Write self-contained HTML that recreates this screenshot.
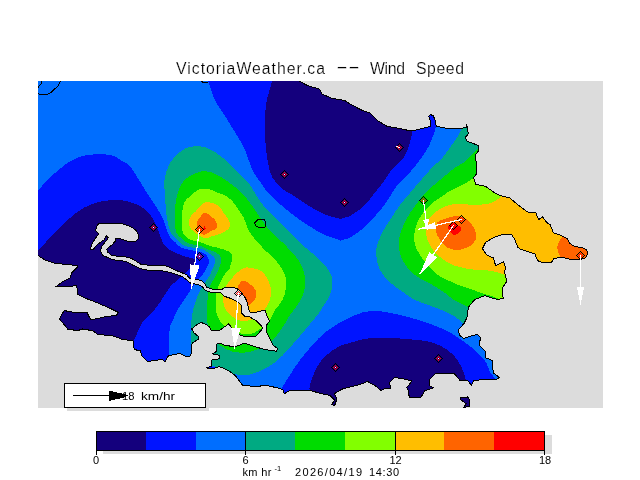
<!DOCTYPE html>
<html><head><meta charset="utf-8"><title>VictoriaWeather.ca -- Wind Speed</title>
<style>html,body{margin:0;padding:0;background:#fff}svg text{font-family:"Liberation Sans",sans-serif;fill:#000}svg text.t{stroke:#fff;stroke-width:0.2px}</style>
</head><body>
<svg width="640" height="480" viewBox="0 0 640 480" shape-rendering="crispEdges" style="display:block">
<rect width="640" height="480" fill="#fff"/>
<defs><clipPath id="mc"><rect x="38" y="81" width="565" height="327"/></clipPath></defs>
<g clip-path="url(#mc)">
<rect x="38" y="81" width="565" height="327" fill="#006eff"/>
<path d="M208.0,76.0 C208.0,76.7 206.8,76.0 208.0,80.0 C209.2,84.0 211.8,93.3 215.0,100.0 C218.2,106.7 222.7,112.1 227.5,120.0 C232.3,127.9 239.6,139.2 243.8,147.5 C247.9,155.8 249.4,163.8 252.5,170.0 C255.6,176.2 259.6,180.8 262.5,185.0 C265.4,189.2 265.4,190.4 270.0,195.0 C274.6,199.6 283.8,207.5 290.0,212.5 C296.2,217.5 301.7,221.2 307.5,225.0 C313.3,228.8 319.5,232.4 325.0,235.0 C330.5,237.6 337.9,239.4 340.5,240.3 C343.1,241.2 338.9,240.8 340.5,240.3 C342.1,239.8 346.3,239.4 350.0,237.5 C353.7,235.6 358.8,231.9 362.5,228.8 C366.2,225.6 369.2,222.3 372.5,218.8 C375.8,215.2 379.3,211.6 382.5,207.5 C385.7,203.4 389.0,197.8 391.5,194.0 C394.0,190.2 395.0,188.0 397.5,185.0 C400.0,182.0 403.3,179.4 406.2,176.2 C409.2,173.1 412.3,169.6 415.0,166.2 C417.7,162.9 420.2,159.6 422.5,156.2 C424.8,152.9 427.1,149.4 428.8,146.2 C430.4,143.1 431.5,140.2 432.5,137.5 C433.5,134.8 434.3,132.6 435.0,130.0 C435.7,127.4 436.2,125.3 436.5,122.0 C436.8,118.7 436.9,112.0 437.0,110.0 L437.0,70.0 L208.0,70.0Z" fill="#0014ff"/>
<path d="M273.0,76.0 C272.9,76.7 273.7,75.2 272.5,80.0 C271.3,84.8 267.2,96.2 266.0,105.0 C264.8,113.8 264.8,123.3 265.0,132.5 C265.2,141.7 266.2,152.5 267.5,160.0 C268.8,167.5 270.0,172.7 272.5,177.5 C275.0,182.3 279.2,185.8 282.5,188.8 C285.8,191.7 288.3,192.3 292.5,195.0 C296.7,197.7 302.1,201.8 307.5,205.0 C312.9,208.2 319.5,212.2 325.0,214.5 C330.5,216.8 337.9,218.1 340.5,218.8 C343.1,219.5 338.9,219.3 340.5,218.8 C342.1,218.3 347.2,217.3 350.0,216.0 C352.8,214.7 355.0,212.8 357.5,211.0 C360.0,209.2 362.4,207.7 365.0,205.0 C367.6,202.3 370.0,198.8 373.0,195.0 C376.0,191.2 380.2,186.3 383.0,182.5 C385.8,178.7 387.8,174.9 390.0,172.0 C392.2,169.1 394.0,167.4 396.2,165.0 C398.5,162.6 401.7,160.6 403.8,157.5 C405.8,154.4 407.5,149.6 408.8,146.2 C410.0,142.9 410.7,140.2 411.2,137.5 C411.8,134.8 411.9,134.6 412.0,130.0 C412.1,125.4 412.0,113.3 412.0,110.0 L412.0,70.0 L272.5,70.0Z" fill="#14007d"/>
<path d="M30.0,198.0 C31.3,196.8 35.1,193.5 38.0,190.5 C40.9,187.5 43.8,183.6 47.5,180.0 C51.2,176.4 55.8,172.1 60.0,168.8 C64.2,165.4 67.9,162.3 72.5,160.0 C77.1,157.7 81.2,155.8 87.5,155.0 C93.8,154.2 104.2,154.0 110.0,155.0 C115.8,156.0 119.2,159.4 122.5,161.2 C125.8,163.1 127.5,163.5 130.0,166.2 C132.5,169.0 134.6,172.9 137.5,177.5 C140.4,182.1 144.6,189.2 147.5,193.8 C150.4,198.3 152.5,201.0 155.0,205.0 C157.5,209.0 160.6,213.5 162.5,217.5 C164.4,221.5 165.2,225.7 166.5,229.0 C167.8,232.3 168.6,235.3 170.0,237.5 C171.4,239.7 173.3,240.3 175.0,241.9 C176.7,243.5 178.3,245.8 180.0,246.9 C181.7,248.0 183.2,248.2 185.0,248.8 C186.8,249.3 188.4,249.5 190.6,250.0 C192.8,250.5 196.0,251.1 198.0,251.5 C200.0,251.9 201.1,251.9 202.5,252.5 C203.9,253.1 205.3,254.0 206.2,255.0 C207.2,256.0 207.9,257.6 208.4,258.8 C208.9,259.9 209.1,260.9 209.0,261.9 C208.9,262.9 208.5,263.9 208.0,265.0 C207.5,266.1 207.2,267.1 206.2,268.8 C205.3,270.4 204.0,273.1 202.5,275.0 C201.0,276.9 199.2,277.9 197.5,280.0 C195.8,282.1 194.2,285.0 192.5,287.5 C190.8,290.0 189.2,292.5 187.5,295.0 C185.8,297.5 184.2,300.0 182.5,302.5 C180.8,305.0 179.1,307.1 177.5,310.0 C175.9,312.9 174.2,317.1 173.0,320.0 C171.8,322.9 170.7,323.8 170.0,327.5 C169.3,331.2 168.8,337.8 168.8,342.5 C168.7,347.2 168.5,352.4 169.5,356.0 C170.5,359.6 171.6,362.2 175.0,364.0 C178.4,365.8 185.0,366.6 190.0,367.0 C195.0,367.4 201.0,366.5 205.0,366.5 C209.0,366.5 212.0,366.1 214.0,367.0 C216.0,367.9 216.5,369.8 217.0,372.0 C217.5,374.2 217.0,378.7 217.0,380.0 L217.0,420.0 L30.0,420.0Z" fill="#0014ff"/>
<path d="M30.0,260.0 C31.3,258.5 33.8,255.6 38.0,251.0 C42.2,246.4 48.8,238.7 55.0,232.5 C61.2,226.3 68.8,218.5 75.0,213.8 C81.2,209.0 86.2,206.0 92.5,203.8 C98.8,201.5 106.2,200.3 112.5,200.0 C118.8,199.7 124.4,200.3 130.0,202.0 C135.6,203.7 141.8,206.5 146.0,210.0 C150.2,213.5 152.6,218.6 155.0,223.0 C157.4,227.4 159.0,232.8 160.5,236.5 C162.0,240.2 162.4,242.8 164.0,245.0 C165.6,247.2 168.0,248.7 170.0,250.0 C172.0,251.3 174.2,252.1 176.2,253.0 C178.3,253.9 180.4,254.8 182.5,255.6 C184.6,256.4 186.7,256.9 188.8,257.5 C190.8,258.1 194.0,258.2 195.0,259.0 C196.0,259.8 195.8,260.9 195.0,262.5 C194.2,264.1 192.1,266.6 190.0,268.8 C187.9,270.9 185.8,272.6 182.5,275.6 C179.2,278.6 173.8,282.4 170.0,286.9 C166.2,291.4 163.3,297.8 160.0,302.5 C156.7,307.2 152.9,311.7 150.0,315.0 C147.1,318.3 144.6,319.6 142.5,322.5 C140.4,325.4 139.0,329.2 137.5,332.5 C136.0,335.8 134.5,337.9 133.8,342.5 C133.0,347.1 133.1,357.1 133.0,360.0 L133.0,420.0 L30.0,420.0Z" fill="#14007d"/>
<path d="M282.5,395.0 C282.5,393.8 281.2,390.8 282.5,387.5 C283.8,384.2 287.1,379.6 290.0,375.0 C292.9,370.4 296.2,365.0 300.0,360.0 C303.8,355.0 308.3,349.6 312.5,345.0 C316.7,340.4 320.4,336.2 325.0,332.5 C329.6,328.8 335.8,325.0 340.0,322.5 C344.2,320.0 346.2,319.2 350.0,317.5 C353.8,315.8 357.5,313.5 362.5,312.5 C367.5,311.5 372.9,310.6 380.0,311.2 C387.1,311.9 396.7,314.2 405.0,316.2 C413.3,318.3 422.5,321.0 430.0,323.8 C437.5,326.5 444.2,329.4 450.0,332.5 C455.8,335.6 460.4,339.2 465.0,342.5 C469.6,345.8 474.0,349.2 477.5,352.5 C481.0,355.8 484.2,359.2 486.2,362.5 C488.3,365.8 488.3,369.6 490.0,372.5 C491.7,375.4 494.6,377.1 496.2,380.0 C497.9,382.9 499.4,388.3 500.0,390.0 L500.0,420.0 L282.0,420.0Z" fill="#0014ff"/>
<path d="M309.5,400.0 C309.5,398.5 309.4,393.5 309.5,391.0 C309.6,388.5 309.2,388.1 310.0,385.0 C310.8,381.9 312.6,376.7 314.5,372.5 C316.4,368.3 318.5,363.7 321.5,360.0 C324.5,356.3 329.2,352.9 332.5,350.5 C335.8,348.1 338.1,346.8 341.0,345.5 C343.9,344.2 346.0,344.1 350.0,343.0 C354.0,341.9 358.8,339.6 365.0,338.8 C371.2,337.9 379.6,337.9 387.5,338.0 C395.4,338.1 405.0,338.8 412.5,339.5 C420.0,340.2 426.7,340.8 432.5,342.5 C438.3,344.2 443.3,347.1 447.5,350.0 C451.7,352.9 454.8,356.2 457.5,360.0 C460.2,363.8 462.3,368.8 463.8,372.5 C465.2,376.2 465.7,378.8 466.2,382.5 C466.8,386.2 466.9,392.9 467.0,395.0 L467.0,420.0 L309.0,420.0Z" fill="#14007d"/>
<path d="M164.5,180.0 C165.3,174.7 167.4,167.7 170.0,163.0 C172.6,158.3 176.7,154.7 180.0,152.0 C183.3,149.3 185.7,147.8 190.0,147.0 C194.3,146.2 200.6,145.8 206.0,147.5 C211.4,149.2 216.8,152.9 222.5,157.5 C228.2,162.1 235.4,170.4 240.0,175.0 C244.6,179.6 247.3,181.7 250.0,185.0 C252.7,188.3 253.5,191.2 256.0,195.0 C258.5,198.8 260.6,202.5 265.0,207.5 C269.4,212.5 276.2,218.8 282.5,225.0 C288.8,231.2 296.2,239.2 302.5,245.0 C308.8,250.8 315.4,255.4 320.0,260.0 C324.6,264.6 327.9,268.8 330.0,272.5 C332.1,276.2 332.5,278.8 332.5,282.5 C332.5,286.2 331.7,290.8 330.0,295.0 C328.3,299.2 324.6,304.2 322.5,307.5 C320.4,310.8 320.4,311.2 317.5,315.0 C314.6,318.8 309.6,324.6 305.0,330.0 C300.4,335.4 295.0,342.1 290.0,347.5 C285.0,352.9 280.0,358.6 275.0,362.5 C270.0,366.4 264.6,368.9 260.0,371.0 C255.4,373.1 251.0,374.3 247.5,375.0 C244.0,375.7 242.3,375.7 238.8,375.0 C235.2,374.3 229.3,372.1 226.0,371.0 C222.7,369.9 221.0,369.1 219.0,368.3 C217.0,367.5 215.8,366.8 214.0,366.3 C212.2,365.8 209.7,366.6 208.0,365.5 C206.3,364.4 205.3,362.2 204.0,360.0 C202.7,357.8 202.0,354.2 200.0,352.0 C198.0,349.8 193.4,350.7 192.0,347.0 C190.6,343.3 191.6,334.5 191.5,330.0 C191.4,325.5 191.2,323.3 191.5,320.0 C191.8,316.7 192.4,312.7 193.0,310.0 C193.6,307.3 194.2,306.0 195.0,303.8 C195.8,301.5 196.5,298.8 197.5,296.2 C198.5,293.8 200.0,291.0 201.2,288.8 C202.5,286.5 203.5,284.8 205.0,282.5 C206.5,280.2 208.8,277.2 210.0,275.0 C211.2,272.8 211.5,271.0 212.2,269.4 C212.9,267.8 213.5,266.9 214.0,265.6 C214.5,264.4 214.9,263.1 215.0,261.9 C215.1,260.7 215.1,259.4 214.7,258.3 C214.3,257.2 213.3,256.2 212.5,255.5 C211.7,254.8 210.9,254.6 210.0,254.0 C209.1,253.4 208.2,252.8 207.0,252.0 C205.8,251.2 204.0,250.1 202.5,249.4 C201.0,248.7 199.7,248.3 198.0,248.0 C196.3,247.7 194.3,247.8 192.5,247.5 C190.7,247.2 188.7,246.9 187.0,246.5 C185.3,246.1 184.0,246.0 182.5,245.0 C181.0,244.0 179.5,242.1 178.0,240.6 C176.5,239.1 175.1,237.8 173.8,236.2 C172.4,234.7 171.0,233.5 170.0,231.0 C169.0,228.5 168.2,224.5 167.5,221.0 C166.8,217.5 166.4,214.3 166.0,210.0 C165.6,205.7 165.2,200.0 165.0,195.0 C164.8,190.0 163.7,185.3 164.5,180.0Z" fill="#00aa82"/>
<path d="M176.0,200.0 C176.6,196.7 177.6,193.0 178.8,190.0 C179.9,187.0 181.1,184.3 183.0,182.0 C184.9,179.7 186.5,177.8 190.0,176.0 C193.5,174.2 199.4,171.2 204.0,171.0 C208.6,170.8 212.8,172.7 217.5,175.0 C222.2,177.3 228.1,181.7 232.5,185.0 C236.9,188.3 240.2,190.8 244.0,195.0 C247.8,199.2 251.1,204.6 255.0,210.0 C258.9,215.4 262.1,221.2 267.5,227.5 C272.9,233.8 282.1,241.7 287.5,247.5 C292.9,253.3 297.1,257.5 300.0,262.5 C302.9,267.5 304.4,272.5 305.0,277.5 C305.6,282.5 305.0,287.9 303.8,292.5 C302.5,297.1 299.8,301.2 297.5,305.0 C295.2,308.8 292.5,311.2 290.0,315.0 C287.5,318.8 285.0,323.8 282.5,327.5 C280.0,331.2 277.4,334.9 275.0,337.5 C272.6,340.1 270.7,341.1 268.0,343.0 C265.3,344.9 262.6,347.4 258.8,349.0 C254.9,350.6 249.5,352.1 245.0,352.5 C240.5,352.9 236.0,352.6 232.0,351.5 C228.0,350.4 224.2,347.9 221.2,346.0 C218.2,344.1 215.9,342.2 214.0,340.0 C212.1,337.8 211.2,336.3 210.0,333.0 C208.8,329.7 207.5,323.8 207.0,320.0 C206.5,316.2 206.8,313.3 206.9,310.0 C207.0,306.7 207.3,302.9 207.5,300.0 C207.7,297.1 207.4,295.2 208.0,292.5 C208.6,289.8 209.9,286.7 211.2,283.8 C212.6,280.8 215.0,277.5 216.2,275.0 C217.5,272.5 218.1,270.4 218.8,268.8 C219.4,267.1 219.9,266.2 220.3,265.0 C220.7,263.8 220.9,262.6 221.0,261.2 C221.1,259.9 221.0,258.3 220.6,257.2 C220.2,256.1 219.7,255.4 218.8,254.5 C217.8,253.6 216.5,252.8 215.0,252.0 C213.5,251.2 211.2,250.4 210.0,250.0 C208.8,249.6 208.5,249.9 207.5,249.4 C206.5,248.9 205.2,247.8 203.8,247.2 C202.3,246.6 200.0,246.0 198.8,245.6 C197.5,245.2 197.6,245.3 196.2,245.0 C194.9,244.7 192.4,244.5 190.6,244.0 C188.8,243.5 187.2,242.9 185.6,241.9 C184.0,240.9 182.7,239.4 181.2,238.0 C179.8,236.6 178.0,235.6 177.0,233.8 C176.0,231.9 175.4,229.6 175.0,227.0 C174.6,224.4 174.5,220.8 174.5,218.0 C174.5,215.2 174.8,213.0 175.0,210.0 C175.2,207.0 175.4,203.3 176.0,200.0Z" fill="#00dc00"/>
<path d="M183.5,205.0 C183.9,203.4 184.2,202.4 185.0,201.2 C185.8,200.1 187.0,199.0 188.0,198.0 C189.0,197.0 189.9,196.1 191.2,195.0 C192.6,193.9 194.3,192.3 196.0,191.3 C197.7,190.3 198.9,189.1 201.2,188.8 C203.6,188.4 207.3,188.8 210.0,189.4 C212.7,190.0 215.0,191.5 217.5,192.5 C220.0,193.5 222.7,194.3 225.0,195.6 C227.3,196.8 229.4,198.2 231.2,200.0 C233.1,201.8 234.8,204.2 236.2,206.2 C237.7,208.2 238.8,210.0 240.0,212.0 C241.2,214.0 242.1,214.6 243.8,218.0 C245.4,221.4 246.9,227.6 250.0,232.5 C253.1,237.4 257.9,242.5 262.5,247.5 C267.1,252.5 273.8,257.9 277.5,262.5 C281.2,267.1 283.6,270.8 285.0,275.0 C286.4,279.2 286.4,283.3 286.0,287.5 C285.6,291.7 284.3,296.2 282.5,300.0 C280.7,303.8 277.1,306.7 275.0,310.0 C272.9,313.3 271.8,317.2 270.0,320.0 C268.2,322.8 265.8,324.9 264.0,326.5 C262.2,328.1 260.7,328.4 259.0,329.5 C257.3,330.6 256.1,332.2 254.0,333.0 C251.9,333.8 248.8,334.5 246.2,334.5 C243.7,334.5 241.5,333.7 238.8,332.8 C236.0,331.8 232.5,330.1 230.0,329.0 C227.5,327.9 225.7,327.3 224.0,326.0 C222.3,324.7 221.2,322.8 220.0,321.0 C218.8,319.2 217.6,316.8 217.0,315.0 C216.4,313.2 216.5,312.1 216.2,310.0 C216.0,307.9 215.6,305.2 215.6,302.5 C215.6,299.8 215.9,296.0 216.2,293.8 C216.6,291.5 216.9,290.6 217.5,288.8 C218.1,286.9 218.8,285.0 220.0,282.5 C221.2,280.0 223.4,276.0 225.0,273.8 C226.6,271.5 228.5,270.2 229.4,268.8 C230.3,267.3 230.2,266.4 230.6,265.0 C231.0,263.6 231.7,262.4 231.9,260.6 C232.1,258.9 232.2,255.9 231.9,254.5 C231.6,253.1 231.2,252.9 230.0,252.2 C228.8,251.4 226.9,250.7 225.0,250.0 C223.1,249.3 220.8,248.6 218.8,248.0 C216.7,247.4 214.4,247.0 212.5,246.5 C210.6,246.0 209.0,245.5 207.5,245.0 C206.0,244.5 205.1,243.9 203.8,243.4 C202.4,242.9 200.5,242.5 199.4,242.2 C198.3,241.9 198.2,241.8 196.9,241.5 C195.7,241.2 193.6,241.0 191.9,240.3 C190.2,239.6 188.3,238.6 186.9,237.5 C185.5,236.4 184.3,235.6 183.5,234.0 C182.7,232.4 182.3,230.3 182.0,228.0 C181.7,225.7 181.8,222.8 181.9,220.0 C182.0,217.2 182.0,213.5 182.3,211.0 C182.6,208.5 183.1,206.6 183.5,205.0Z" fill="#82ff00"/>
<path d="M195.6,211.5 C197.8,209.4 201.3,203.6 205.0,202.5 C208.7,201.4 214.4,203.2 217.5,205.0 C220.6,206.8 221.8,210.4 223.8,213.0 C225.7,215.6 228.0,218.1 229.0,220.4 C230.0,222.7 230.5,225.0 230.0,226.7 C229.5,228.4 227.5,229.6 225.8,230.8 C224.1,232.0 222.0,233.1 219.6,234.0 C217.2,234.9 213.7,235.8 211.2,236.5 C208.8,237.2 207.0,238.6 205.0,238.4 C203.0,238.2 201.1,236.5 199.4,235.5 C197.7,234.5 196.3,233.5 195.0,232.5 C193.7,231.5 192.4,230.6 191.5,229.5 C190.6,228.4 189.8,227.5 189.4,226.0 C189.0,224.5 188.6,222.2 188.9,220.4 C189.2,218.6 190.4,216.7 191.5,215.2 C192.6,213.7 193.3,213.6 195.6,211.5Z" fill="#ffbe00"/>
<path d="M204.0,213.0 C205.4,212.7 207.0,213.3 209.0,214.7 C211.0,216.1 214.8,219.2 216.0,221.5 C217.2,223.8 217.3,226.6 216.5,228.2 C215.7,229.8 213.2,229.8 211.2,230.8 C209.3,231.9 206.7,234.1 205.0,234.5 C203.3,234.9 202.1,234.4 200.8,233.4 C199.5,232.4 197.8,230.7 197.2,228.8 C196.6,226.8 196.6,223.6 197.2,221.5 C197.8,219.4 199.7,217.7 200.8,216.2 C201.9,214.8 202.6,213.3 204.0,213.0Z" fill="#ff6400"/>
<path d="M248.0,267.5 C251.0,268.0 257.8,268.8 261.2,271.2 C264.8,273.7 267.4,278.5 269.0,282.0 C270.6,285.5 270.9,288.8 271.0,292.0 C271.1,295.2 270.5,298.2 269.5,301.0 C268.5,303.8 266.2,307.0 265.0,309.0 C263.8,311.0 263.8,311.4 262.0,313.0 C260.2,314.6 256.7,317.2 254.0,318.5 C251.3,319.8 248.7,320.8 246.0,321.0 C243.3,321.2 240.2,320.7 238.0,320.0 C235.8,319.3 234.7,318.2 233.0,317.0 C231.3,315.8 229.5,314.8 228.0,313.0 C226.5,311.2 224.8,308.7 224.0,306.0 C223.2,303.3 223.0,299.7 223.0,297.0 C223.0,294.3 223.2,292.3 224.0,290.0 C224.8,287.7 226.5,285.2 228.0,283.0 C229.5,280.8 231.3,278.8 233.0,277.0 C234.7,275.2 236.3,273.4 238.0,272.0 C239.7,270.6 241.3,269.2 243.0,268.5 C244.7,267.8 245.0,267.0 248.0,267.5Z" fill="#ffbe00"/>
<path d="M238.0,286.0 C238.7,284.2 240.7,281.8 242.0,281.0 C243.3,280.2 244.5,280.8 246.0,281.5 C247.5,282.2 249.3,283.4 251.0,285.0 C252.7,286.6 255.2,288.8 256.0,291.0 C256.8,293.2 256.6,296.2 255.5,298.5 C254.4,300.8 251.2,303.8 249.5,304.5 C247.8,305.2 246.4,304.1 245.0,303.0 C243.6,301.9 242.2,299.8 241.0,298.0 C239.8,296.2 238.5,294.0 238.0,292.0 C237.5,290.0 237.3,287.8 238.0,286.0Z" fill="#ff6400"/>
<path d="M463.0,120.0 C462.7,121.7 462.4,126.9 461.2,130.0 C460.1,133.1 458.1,135.8 456.2,138.8 C454.4,141.7 452.1,144.6 450.0,147.5 C447.9,150.4 446.0,153.5 443.8,156.2 C441.5,159.0 438.8,161.2 436.2,163.8 C433.8,166.2 431.2,168.5 428.8,171.2 C426.2,174.0 424.0,176.9 421.2,180.0 C418.5,183.1 414.6,187.5 412.5,190.0 C410.4,192.5 410.6,192.5 408.5,195.0 C406.4,197.5 403.1,200.8 400.0,205.0 C396.9,209.2 393.2,215.0 390.0,220.0 C386.8,225.0 383.3,229.6 381.0,235.0 C378.7,240.4 376.2,246.7 376.0,252.5 C375.8,258.3 377.7,265.0 380.0,270.0 C382.3,275.0 386.2,278.8 390.0,282.5 C393.8,286.2 398.8,289.1 403.0,292.0 C407.2,294.9 409.7,297.4 415.0,300.0 C420.3,302.6 428.8,305.0 435.0,307.5 C441.2,310.0 447.7,312.3 452.5,315.0 C457.3,317.7 460.8,321.2 463.8,323.8 C466.7,326.2 469.0,329.0 470.0,330.0 L620.0,330.0 L620.0,70.0 L463.0,70.0Z" fill="#00aa82"/>
<path d="M483.0,138.0 C482.3,139.6 481.2,144.5 479.0,147.5 C476.8,150.5 472.5,153.8 470.0,156.2 C467.5,158.8 466.2,160.6 463.8,162.5 C461.2,164.4 457.7,165.6 455.0,167.5 C452.3,169.4 450.0,171.7 447.5,173.8 C445.0,175.8 442.5,177.9 440.0,180.0 C437.5,182.1 435.0,184.0 432.5,186.2 C430.0,188.5 427.8,190.5 425.0,193.5 C422.2,196.5 419.2,200.1 416.0,204.5 C412.8,208.9 408.7,214.9 406.0,220.0 C403.3,225.1 401.2,230.4 400.0,235.0 C398.8,239.6 398.1,242.9 398.8,247.5 C399.4,252.1 401.0,257.9 403.8,262.5 C406.5,267.1 410.2,271.2 415.0,275.0 C419.8,278.8 427.5,282.0 432.5,285.0 C437.5,288.0 441.5,290.5 445.0,293.0 C448.5,295.5 450.4,297.9 453.8,300.0 C457.1,302.1 462.0,304.0 465.0,305.5 C468.0,307.0 470.8,308.4 472.0,309.0 L620.0,309.0 L620.0,70.0 L483.0,70.0Z" fill="#00dc00"/>
<path d="M486.0,168.0 C484.0,169.6 477.9,174.7 474.0,177.5 C470.1,180.3 466.5,182.8 462.5,185.0 C458.5,187.2 453.1,189.3 450.0,191.0 C446.9,192.7 447.3,192.7 444.0,195.0 C440.7,197.3 434.0,201.2 430.0,205.0 C426.0,208.8 422.5,213.3 420.0,217.5 C417.5,221.7 415.8,225.4 415.0,230.0 C414.2,234.6 413.8,240.2 415.0,245.0 C416.2,249.8 419.8,254.6 422.5,258.5 C425.2,262.4 428.1,265.5 431.0,268.5 C433.9,271.5 436.8,274.4 440.0,276.5 C443.2,278.6 446.7,279.7 450.0,281.2 C453.3,282.8 456.7,284.4 460.0,285.6 C463.3,286.9 466.7,287.6 470.0,288.8 C473.3,289.9 476.7,291.4 480.0,292.5 C483.3,293.6 486.9,294.6 490.0,295.6 C493.1,296.6 496.1,297.9 498.8,298.8 C501.4,299.6 504.8,300.6 506.0,301.0 L620.0,302.0 L620.0,70.0 L486.0,70.0Z" fill="#82ff00"/>
<path d="M510.0,190.0 C508.8,190.8 505.4,192.9 502.5,195.0 C499.6,197.1 497.1,200.8 492.5,202.5 C487.9,204.2 481.2,204.8 475.0,205.0 C468.8,205.2 460.8,203.1 455.0,203.8 C449.2,204.4 444.2,206.5 440.0,208.8 C435.8,211.0 432.3,214.4 430.0,217.5 C427.7,220.6 426.4,223.8 426.0,227.5 C425.6,231.2 426.0,235.8 427.5,240.0 C429.0,244.2 431.2,248.5 435.0,252.5 C438.8,256.5 444.6,261.0 450.0,263.8 C455.4,266.5 462.5,267.7 467.5,268.8 C472.5,269.8 475.8,269.6 480.0,270.0 C484.2,270.4 488.3,270.2 492.5,271.0 C496.7,271.8 501.8,273.8 505.0,275.0 C508.2,276.2 510.8,277.5 512.0,278.0 L620.0,278.0 L620.0,185.0Z" fill="#ffbe00"/>
<path d="M437.5,222.5 C439.0,220.5 441.7,219.8 445.0,218.8 C448.3,217.7 453.8,215.8 457.5,216.0 C461.2,216.2 464.6,217.7 467.5,220.0 C470.4,222.3 473.6,226.9 475.0,230.0 C476.4,233.1 476.8,236.1 476.0,238.8 C475.2,241.4 473.1,244.1 470.0,246.0 C466.9,247.9 461.2,249.8 457.5,250.0 C453.8,250.2 450.4,249.2 447.5,247.5 C444.6,245.8 441.9,242.8 440.0,240.0 C438.1,237.2 436.4,233.9 436.0,231.0 C435.6,228.1 436.0,224.5 437.5,222.5Z" fill="#ff6400"/>
<path d="M448.5,226.5 C449.0,225.3 450.6,223.3 452.0,223.0 C453.4,222.7 455.4,223.6 457.0,224.5 C458.6,225.4 461.1,227.2 461.5,228.5 C461.9,229.8 460.6,230.9 459.5,232.0 C458.4,233.1 456.4,234.8 455.0,235.0 C453.6,235.2 452.0,233.8 451.0,233.0 C450.0,232.2 449.4,231.1 449.0,230.0 C448.6,228.9 448.0,227.7 448.5,226.5Z" fill="#ff0000"/>
<path d="M566.0,232.0 C565.2,233.0 562.6,236.0 561.2,238.0 C559.9,240.0 558.6,242.0 558.0,243.8 C557.4,245.5 557.4,247.1 557.5,248.8 C557.6,250.4 558.1,252.3 558.8,253.8 C559.4,255.2 560.2,256.0 561.2,257.5 C562.3,259.0 564.4,262.1 565.0,263.0 L595.0,263.0 L595.0,232.0Z" fill="#ff6400"/>
<polyline points="299.0,80.5 307.5,85.0 320.0,88.8 322.5,93.8 332.5,98.0 345.0,100.0 350.0,103.5 362.5,110.0 370.0,112.5 377.5,120.0 387.5,126.0 400.0,128.0 411.0,130.5 422.5,128.0 430.0,126.0 430.5,122.5 428.0,116.0 430.5,114.0 433.8,115.5 435.5,120.0 436.8,126.0 445.0,127.5 460.0,128.0 466.0,127.0 466.0,123.0 467.5,126.0 468.8,133.8 466.0,137.5 467.5,141.0 478.8,145.0 479.0,151.0 476.0,155.0 477.5,173.8 474.0,177.5 476.0,183.8 486.0,186.0 495.0,192.5 500.0,195.0 510.0,197.5 517.5,203.8 525.6,210.0 528.8,212.0 536.2,212.5 538.8,218.8 542.5,216.2 547.0,222.0 550.6,224.4 553.8,232.5 561.2,235.0 567.5,238.0 570.0,243.0 575.0,246.2 582.5,247.0 587.0,249.4 588.0,252.5 587.0,257.0 583.8,259.4 575.0,260.0 567.5,259.4 561.2,257.5 553.8,259.4 552.0,262.5 542.5,263.0 537.5,261.2 535.6,257.0 535.0,254.4 527.5,252.0 520.0,249.4 517.5,247.5 513.8,238.8 511.0,234.5 502.5,235.0 495.0,237.5 486.0,242.5 483.0,248.8 487.5,255.0 493.8,257.5 496.0,265.0 503.8,261.0 506.0,267.5 505.0,272.5 507.5,281.0 502.5,288.8 503.8,298.8 497.5,300.0 490.0,298.0 485.0,296.0 475.0,300.0 468.8,307.5 467.5,317.5 464.5,323.8 458.8,330.0 460.0,335.0 463.8,338.0 472.5,335.0 477.5,333.8 481.2,337.5 479.5,345.0 486.2,351.2 486.2,357.5 492.5,360.0 493.8,372.5 500.0,377.5 496.2,380.5 482.5,380.0 473.8,381.2 471.8,386.2 467.5,381.2 460.0,381.2 453.8,373.8 435.0,374.5 429.5,380.0 429.5,385.0 434.5,388.0 425.0,391.2 421.2,398.0 408.8,398.0 408.0,391.2 406.2,387.5 411.2,381.2 403.8,379.5 395.0,378.0 390.0,382.5 391.2,388.8 385.0,388.8 381.2,391.2 375.0,386.2 367.5,382.0 360.0,385.0 350.0,387.5 342.5,389.5 335.0,393.8 337.5,398.8 335.0,406.0 331.2,405.0 333.8,400.0 330.0,396.0 320.0,393.8 310.0,391.0 290.0,391.0 283.8,394.5 282.5,390.0 276.0,388.0 265.0,385.8 257.5,387.0 242.5,386.0 238.0,380.0 235.0,376.2 231.2,373.0 225.0,369.4 219.4,367.2 213.8,368.8 206.9,369.4 206.2,367.5 211.2,365.6 210.6,361.2 211.9,359.0 217.5,358.8 219.4,357.5 218.8,355.6 212.5,355.0 212.5,353.5 215.6,351.2 215.6,345.0 217.5,343.0 220.6,342.5 223.8,344.4 230.0,345.6 235.0,346.2 240.0,344.4 245.0,342.5 251.2,345.0 257.5,346.9 263.8,348.8 271.2,350.0 276.2,350.6 277.5,348.8 273.0,346.2 271.2,342.5 268.8,337.5 266.2,332.5 265.6,326.2 267.5,322.5 269.0,321.0 266.2,315.6 265.0,310.6 261.9,311.2 255.6,312.8 250.0,313.0 248.0,309.0 247.0,303.0 245.0,298.5 242.0,294.5 240.0,291.5 237.5,289.5 234.0,288.0 225.0,288.0 222.0,290.0 215.0,290.5 211.2,289.4 206.2,287.5 204.4,283.8 201.2,281.2 195.0,279.4 190.0,279.4 186.2,275.0 181.2,273.0 175.0,270.6 170.0,268.0 165.0,266.2 155.0,265.6 147.5,265.6 141.2,265.0 136.2,261.9 131.2,258.8 126.2,257.5 117.5,256.9 111.2,255.6 107.5,252.5 106.2,249.4 108.1,246.9 111.9,244.4 115.0,240.6 114.4,237.5 118.8,237.5 123.8,239.4 128.8,241.2 135.0,241.2 137.5,238.8 137.5,233.8 135.0,230.0 130.0,226.9 122.5,224.4 110.0,224.0 98.8,224.4 96.9,226.9 96.2,230.6 99.4,233.8 97.5,236.2 95.0,240.0 91.9,245.0 91.2,248.8 93.1,248.8 96.2,245.0 100.0,241.9 103.8,239.4 105.0,236.9 106.9,235.0 108.8,236.9 107.5,240.0 105.0,243.1 101.9,246.9 101.2,251.2 103.1,255.0 108.8,257.5 113.8,259.4 120.0,260.0 126.2,261.2 132.5,264.4 138.8,267.5 145.0,269.4 155.0,270.0 165.0,270.6 170.0,271.9 176.2,273.8 182.5,276.2 187.5,280.0 191.2,283.0 197.5,283.8 202.5,286.2 205.6,290.0 211.2,291.9 215.0,292.0 221.0,292.5 225.0,296.0 231.0,298.0 237.0,301.0 241.0,304.0 242.5,306.5 241.5,310.0 242.0,313.0 245.0,316.0 250.0,316.5 253.0,318.5 256.2,320.0 260.0,323.8 263.8,328.0 258.8,333.8 255.0,337.5 243.8,336.9 238.8,335.0 231.9,329.4 228.8,324.4 223.8,328.0 219.4,331.2 211.2,331.2 208.8,326.9 205.0,324.4 201.0,323.0 196.2,325.8 192.3,329.0 194.7,332.8 199.4,336.7 198.6,339.8 193.0,343.0 191.5,346.0 192.3,353.0 190.0,357.0 186.2,357.5 180.0,353.8 168.8,356.2 165.0,362.5 162.5,360.0 152.5,361.2 147.5,362.5 141.2,356.2 140.0,351.2 133.8,350.0 132.5,341.2 122.5,340.0 112.5,336.2 97.5,335.0 92.5,331.2 82.5,329.5 77.5,331.2 67.5,329.5 58.8,318.8 63.8,310.0 75.0,312.0 87.5,312.5 91.2,319.5 105.0,316.2 116.2,315.0 117.5,312.5 110.0,308.8 97.5,303.5 87.5,299.5 77.5,295.0 76.2,286.2 67.5,287.0 53.8,287.5 62.5,281.2 70.0,277.5 71.2,272.5 77.5,266.2 67.5,265.0 55.0,263.8 45.0,260.5 38.0,256.2" fill="none" stroke="#000" stroke-width="2" stroke-linejoin="round" stroke-linecap="round"/>
<polygon points="299.0,80.5 307.5,85.0 320.0,88.8 322.5,93.8 332.5,98.0 345.0,100.0 350.0,103.5 362.5,110.0 370.0,112.5 377.5,120.0 387.5,126.0 400.0,128.0 411.0,130.5 422.5,128.0 430.0,126.0 430.5,122.5 428.0,116.0 430.5,114.0 433.8,115.5 435.5,120.0 436.8,126.0 445.0,127.5 460.0,128.0 466.0,127.0 466.0,123.0 467.5,126.0 468.8,133.8 466.0,137.5 467.5,141.0 478.8,145.0 479.0,151.0 476.0,155.0 477.5,173.8 474.0,177.5 476.0,183.8 486.0,186.0 495.0,192.5 500.0,195.0 510.0,197.5 517.5,203.8 525.6,210.0 528.8,212.0 536.2,212.5 538.8,218.8 542.5,216.2 547.0,222.0 550.6,224.4 553.8,232.5 561.2,235.0 567.5,238.0 570.0,243.0 575.0,246.2 582.5,247.0 587.0,249.4 588.0,252.5 587.0,257.0 583.8,259.4 575.0,260.0 567.5,259.4 561.2,257.5 553.8,259.4 552.0,262.5 542.5,263.0 537.5,261.2 535.6,257.0 535.0,254.4 527.5,252.0 520.0,249.4 517.5,247.5 513.8,238.8 511.0,234.5 502.5,235.0 495.0,237.5 486.0,242.5 483.0,248.8 487.5,255.0 493.8,257.5 496.0,265.0 503.8,261.0 506.0,267.5 505.0,272.5 507.5,281.0 502.5,288.8 503.8,298.8 497.5,300.0 490.0,298.0 485.0,296.0 475.0,300.0 468.8,307.5 467.5,317.5 464.5,323.8 458.8,330.0 460.0,335.0 463.8,338.0 472.5,335.0 477.5,333.8 481.2,337.5 479.5,345.0 486.2,351.2 486.2,357.5 492.5,360.0 493.8,372.5 500.0,377.5 496.2,380.5 482.5,380.0 473.8,381.2 471.8,386.2 467.5,381.2 460.0,381.2 453.8,373.8 435.0,374.5 429.5,380.0 429.5,385.0 434.5,388.0 425.0,391.2 421.2,398.0 408.8,398.0 408.0,391.2 406.2,387.5 411.2,381.2 403.8,379.5 395.0,378.0 390.0,382.5 391.2,388.8 385.0,388.8 381.2,391.2 375.0,386.2 367.5,382.0 360.0,385.0 350.0,387.5 342.5,389.5 335.0,393.8 337.5,398.8 335.0,406.0 331.2,405.0 333.8,400.0 330.0,396.0 320.0,393.8 310.0,391.0 290.0,391.0 283.8,394.5 282.5,390.0 276.0,388.0 265.0,385.8 257.5,387.0 242.5,386.0 238.0,380.0 235.0,376.2 231.2,373.0 225.0,369.4 219.4,367.2 213.8,368.8 206.9,369.4 206.2,367.5 211.2,365.6 210.6,361.2 211.9,359.0 217.5,358.8 219.4,357.5 218.8,355.6 212.5,355.0 212.5,353.5 215.6,351.2 215.6,345.0 217.5,343.0 220.6,342.5 223.8,344.4 230.0,345.6 235.0,346.2 240.0,344.4 245.0,342.5 251.2,345.0 257.5,346.9 263.8,348.8 271.2,350.0 276.2,350.6 277.5,348.8 273.0,346.2 271.2,342.5 268.8,337.5 266.2,332.5 265.6,326.2 267.5,322.5 269.0,321.0 266.2,315.6 265.0,310.6 261.9,311.2 255.6,312.8 250.0,313.0 248.0,309.0 247.0,303.0 245.0,298.5 242.0,294.5 240.0,291.5 237.5,289.5 234.0,288.0 225.0,288.0 222.0,290.0 215.0,290.5 211.2,289.4 206.2,287.5 204.4,283.8 201.2,281.2 195.0,279.4 190.0,279.4 186.2,275.0 181.2,273.0 175.0,270.6 170.0,268.0 165.0,266.2 155.0,265.6 147.5,265.6 141.2,265.0 136.2,261.9 131.2,258.8 126.2,257.5 117.5,256.9 111.2,255.6 107.5,252.5 106.2,249.4 108.1,246.9 111.9,244.4 115.0,240.6 114.4,237.5 118.8,237.5 123.8,239.4 128.8,241.2 135.0,241.2 137.5,238.8 137.5,233.8 135.0,230.0 130.0,226.9 122.5,224.4 110.0,224.0 98.8,224.4 96.9,226.9 96.2,230.6 99.4,233.8 97.5,236.2 95.0,240.0 91.9,245.0 91.2,248.8 93.1,248.8 96.2,245.0 100.0,241.9 103.8,239.4 105.0,236.9 106.9,235.0 108.8,236.9 107.5,240.0 105.0,243.1 101.9,246.9 101.2,251.2 103.1,255.0 108.8,257.5 113.8,259.4 120.0,260.0 126.2,261.2 132.5,264.4 138.8,267.5 145.0,269.4 155.0,270.0 165.0,270.6 170.0,271.9 176.2,273.8 182.5,276.2 187.5,280.0 191.2,283.0 197.5,283.8 202.5,286.2 205.6,290.0 211.2,291.9 215.0,292.0 221.0,292.5 225.0,296.0 231.0,298.0 237.0,301.0 241.0,304.0 242.5,306.5 241.5,310.0 242.0,313.0 245.0,316.0 250.0,316.5 253.0,318.5 256.2,320.0 260.0,323.8 263.8,328.0 258.8,333.8 255.0,337.5 243.8,336.9 238.8,335.0 231.9,329.4 228.8,324.4 223.8,328.0 219.4,331.2 211.2,331.2 208.8,326.9 205.0,324.4 201.0,323.0 196.2,325.8 192.3,329.0 194.7,332.8 199.4,336.7 198.6,339.8 193.0,343.0 191.5,346.0 192.3,353.0 190.0,357.0 186.2,357.5 180.0,353.8 168.8,356.2 165.0,362.5 162.5,360.0 152.5,361.2 147.5,362.5 141.2,356.2 140.0,351.2 133.8,350.0 132.5,341.2 122.5,340.0 112.5,336.2 97.5,335.0 92.5,331.2 82.5,329.5 77.5,331.2 67.5,329.5 58.8,318.8 63.8,310.0 75.0,312.0 87.5,312.5 91.2,319.5 105.0,316.2 116.2,315.0 117.5,312.5 110.0,308.8 97.5,303.5 87.5,299.5 77.5,295.0 76.2,286.2 67.5,287.0 53.8,287.5 62.5,281.2 70.0,277.5 71.2,272.5 77.5,266.2 67.5,265.0 55.0,263.8 45.0,260.5 38.0,256.2 20.0,256.0 20.0,430.0 630.0,430.0 630.0,60.0 299.0,60.0" fill="#dcdcdc" stroke="none" stroke-width="1" stroke-linejoin="round"/>
<polyline points="60.5,80.4 59.6,82.9 58.4,85.4 55.2,88.5 52.0,91.6 49.6,93.2 47.4,94.4 39.3,94.4 38.0,93.2" fill="none" stroke="#000" stroke-width="1" stroke-linejoin="round" stroke-linecap="round"/>
<polyline points="41.5,80.4 41.5,83.5 39.6,85.4 38.0,87.6" fill="none" stroke="#000" stroke-width="1" stroke-linejoin="round" stroke-linecap="round"/>
<polyline points="200.0,80.5 204.0,83.0 208.0,82.5" fill="none" stroke="#000" stroke-width="1" stroke-linejoin="round" stroke-linecap="round"/>
<polyline points="254.5,223.0 257.5,220.0 263.8,219.2 265.8,222.5 265.0,227.5 258.8,227.5 255.5,225.5 254.5,223.0" fill="none" stroke="#000" stroke-width="1" stroke-linejoin="round" stroke-linecap="round"/>
</g>
<path d="M280,174h1v1h-1zM281,175h1v1h-1zM281,173h1v1h-1zM282,176h1v1h-1zM282,172h1v1h-1zM283,177h1v1h-1zM283,171h1v1h-1zM284,178h1v1h-1zM284,170h1v1h-1zM285,177h1v1h-1zM285,171h1v1h-1zM286,176h1v1h-1zM286,172h1v1h-1zM287,175h1v1h-1zM287,173h1v1h-1zM288,174h1v1h-1z" fill="#000"/><path d="M282,174h1v1h-1zM283,175h1v1h-1zM283,173h1v1h-1zM284,176h1v1h-1zM284,172h1v1h-1zM285,175h1v1h-1zM285,173h1v1h-1zM286,174h1v1h-1z" fill="#ff0000"/><rect x="284" y="174" width="1" height="1" fill="#fff"/>
<path d="M395,147h1v1h-1zM396,148h1v1h-1zM396,146h1v1h-1zM397,149h1v1h-1zM397,145h1v1h-1zM398,150h1v1h-1zM398,144h1v1h-1zM399,151h1v1h-1zM399,143h1v1h-1zM400,150h1v1h-1zM400,144h1v1h-1zM401,149h1v1h-1zM401,145h1v1h-1zM402,148h1v1h-1zM402,146h1v1h-1zM403,147h1v1h-1z" fill="#000"/><path d="M397,147h1v1h-1zM398,148h1v1h-1zM398,146h1v1h-1zM399,149h1v1h-1zM399,145h1v1h-1zM400,148h1v1h-1zM400,146h1v1h-1zM401,147h1v1h-1z" fill="#ff0000"/><rect x="399" y="147" width="1" height="1" fill="#fff"/>
<path d="M149,227h1v1h-1zM150,228h1v1h-1zM150,226h1v1h-1zM151,229h1v1h-1zM151,225h1v1h-1zM152,230h1v1h-1zM152,224h1v1h-1zM153,231h1v1h-1zM153,223h1v1h-1zM154,230h1v1h-1zM154,224h1v1h-1zM155,229h1v1h-1zM155,225h1v1h-1zM156,228h1v1h-1zM156,226h1v1h-1zM157,227h1v1h-1z" fill="#000"/><path d="M151,227h1v1h-1zM152,228h1v1h-1zM152,226h1v1h-1zM153,229h1v1h-1zM153,225h1v1h-1zM154,228h1v1h-1zM154,226h1v1h-1zM155,227h1v1h-1z" fill="#ff0000"/><rect x="153" y="227" width="1" height="1" fill="#fff"/>
<path d="M195,256h1v1h-1zM196,257h1v1h-1zM196,255h1v1h-1zM197,258h1v1h-1zM197,254h1v1h-1zM198,259h1v1h-1zM198,253h1v1h-1zM199,260h1v1h-1zM199,252h1v1h-1zM200,259h1v1h-1zM200,253h1v1h-1zM201,258h1v1h-1zM201,254h1v1h-1zM202,257h1v1h-1zM202,255h1v1h-1zM203,256h1v1h-1z" fill="#000"/><path d="M197,256h1v1h-1zM198,257h1v1h-1zM198,255h1v1h-1zM199,258h1v1h-1zM199,254h1v1h-1zM200,257h1v1h-1zM200,255h1v1h-1zM201,256h1v1h-1z" fill="#ff0000"/><rect x="199" y="256" width="1" height="1" fill="#fff"/>
<path d="M234,293h1v1h-1zM235,294h1v1h-1zM235,292h1v1h-1zM236,295h1v1h-1zM236,291h1v1h-1zM237,296h1v1h-1zM237,290h1v1h-1zM238,297h1v1h-1zM238,289h1v1h-1zM239,296h1v1h-1zM239,290h1v1h-1zM240,295h1v1h-1zM240,291h1v1h-1zM241,294h1v1h-1zM241,292h1v1h-1zM242,293h1v1h-1z" fill="#000"/><path d="M236,293h1v1h-1zM237,294h1v1h-1zM237,292h1v1h-1zM238,295h1v1h-1zM238,291h1v1h-1zM239,294h1v1h-1zM239,292h1v1h-1zM240,293h1v1h-1z" fill="#ff0000"/><rect x="238" y="293" width="1" height="1" fill="#fff"/>
<path d="M331,367h1v1h-1zM332,368h1v1h-1zM332,366h1v1h-1zM333,369h1v1h-1zM333,365h1v1h-1zM334,370h1v1h-1zM334,364h1v1h-1zM335,371h1v1h-1zM335,363h1v1h-1zM336,370h1v1h-1zM336,364h1v1h-1zM337,369h1v1h-1zM337,365h1v1h-1zM338,368h1v1h-1zM338,366h1v1h-1zM339,367h1v1h-1z" fill="#000"/><path d="M333,367h1v1h-1zM334,368h1v1h-1zM334,366h1v1h-1zM335,369h1v1h-1zM335,365h1v1h-1zM336,368h1v1h-1zM336,366h1v1h-1zM337,367h1v1h-1z" fill="#ff0000"/><rect x="335" y="367" width="1" height="1" fill="#fff"/>
<path d="M434,358h1v1h-1zM435,359h1v1h-1zM435,357h1v1h-1zM436,360h1v1h-1zM436,356h1v1h-1zM437,361h1v1h-1zM437,355h1v1h-1zM438,362h1v1h-1zM438,354h1v1h-1zM439,361h1v1h-1zM439,355h1v1h-1zM440,360h1v1h-1zM440,356h1v1h-1zM441,359h1v1h-1zM441,357h1v1h-1zM442,358h1v1h-1z" fill="#000"/><path d="M436,358h1v1h-1zM437,359h1v1h-1zM437,357h1v1h-1zM438,360h1v1h-1zM438,356h1v1h-1zM439,359h1v1h-1zM439,357h1v1h-1zM440,358h1v1h-1z" fill="#ff0000"/><rect x="438" y="358" width="1" height="1" fill="#fff"/>
<path d="M340,202h1v1h-1zM341,203h1v1h-1zM341,201h1v1h-1zM342,204h1v1h-1zM342,200h1v1h-1zM343,205h1v1h-1zM343,199h1v1h-1zM344,206h1v1h-1zM344,198h1v1h-1zM345,205h1v1h-1zM345,199h1v1h-1zM346,204h1v1h-1zM346,200h1v1h-1zM347,203h1v1h-1zM347,201h1v1h-1zM348,202h1v1h-1z" fill="#000"/><path d="M342,202h1v1h-1zM343,203h1v1h-1zM343,201h1v1h-1zM344,204h1v1h-1zM344,200h1v1h-1zM345,203h1v1h-1zM345,201h1v1h-1zM346,202h1v1h-1z" fill="#ff0000"/><rect x="344" y="202" width="1" height="1" fill="#fff"/>
<path d="M195,229h1v1h-1zM196,230h1v1h-1zM196,228h1v1h-1zM197,231h1v1h-1zM197,227h1v1h-1zM198,232h1v1h-1zM198,226h1v1h-1zM199,233h1v1h-1zM199,225h1v1h-1zM200,232h1v1h-1zM200,226h1v1h-1zM201,231h1v1h-1zM201,227h1v1h-1zM202,230h1v1h-1zM202,228h1v1h-1zM203,229h1v1h-1z" fill="#000"/><path d="M197,229h1v1h-1zM198,230h1v1h-1zM198,228h1v1h-1zM199,231h1v1h-1zM199,227h1v1h-1zM200,230h1v1h-1zM200,228h1v1h-1zM201,229h1v1h-1z" fill="#ff0000"/><rect x="199" y="229" width="1" height="1" fill="#fff"/>
<path d="M419,200h1v1h-1zM420,201h1v1h-1zM420,199h1v1h-1zM421,202h1v1h-1zM421,198h1v1h-1zM422,203h1v1h-1zM422,197h1v1h-1zM423,204h1v1h-1zM423,196h1v1h-1zM424,203h1v1h-1zM424,197h1v1h-1zM425,202h1v1h-1zM425,198h1v1h-1zM426,201h1v1h-1zM426,199h1v1h-1zM427,200h1v1h-1z" fill="#000"/><path d="M421,200h1v1h-1zM422,201h1v1h-1zM422,199h1v1h-1zM423,202h1v1h-1zM423,198h1v1h-1zM424,201h1v1h-1zM424,199h1v1h-1zM425,200h1v1h-1z" fill="#ff0000"/><rect x="423" y="200" width="1" height="1" fill="#fff"/>
<path d="M457,219h1v1h-1zM458,220h1v1h-1zM458,218h1v1h-1zM459,221h1v1h-1zM459,217h1v1h-1zM460,222h1v1h-1zM460,216h1v1h-1zM461,223h1v1h-1zM461,215h1v1h-1zM462,222h1v1h-1zM462,216h1v1h-1zM463,221h1v1h-1zM463,217h1v1h-1zM464,220h1v1h-1zM464,218h1v1h-1zM465,219h1v1h-1z" fill="#000"/><path d="M459,219h1v1h-1zM460,220h1v1h-1zM460,218h1v1h-1zM461,221h1v1h-1zM461,217h1v1h-1zM462,220h1v1h-1zM462,218h1v1h-1zM463,219h1v1h-1z" fill="#ff0000"/><rect x="461" y="219" width="1" height="1" fill="#fff"/>
<path d="M576,255h1v1h-1zM577,256h1v1h-1zM577,254h1v1h-1zM578,257h1v1h-1zM578,253h1v1h-1zM579,258h1v1h-1zM579,252h1v1h-1zM580,259h1v1h-1zM580,251h1v1h-1zM581,258h1v1h-1zM581,252h1v1h-1zM582,257h1v1h-1zM582,253h1v1h-1zM583,256h1v1h-1zM583,254h1v1h-1zM584,255h1v1h-1z" fill="#000"/><path d="M578,255h1v1h-1zM579,256h1v1h-1zM579,254h1v1h-1zM580,257h1v1h-1zM580,253h1v1h-1zM581,256h1v1h-1zM581,254h1v1h-1zM582,255h1v1h-1z" fill="#ff0000"/><rect x="580" y="255" width="1" height="1" fill="#fff"/>
<path d="M449,225h1v1h-1zM450,226h1v1h-1zM450,224h1v1h-1zM451,227h1v1h-1zM451,223h1v1h-1zM452,228h1v1h-1zM452,222h1v1h-1zM453,229h1v1h-1zM453,221h1v1h-1zM454,228h1v1h-1zM454,222h1v1h-1zM455,227h1v1h-1zM455,223h1v1h-1zM456,226h1v1h-1zM456,224h1v1h-1zM457,225h1v1h-1z" fill="#000"/><path d="M451,225h1v1h-1zM452,226h1v1h-1zM452,224h1v1h-1zM453,227h1v1h-1zM453,223h1v1h-1zM454,226h1v1h-1zM454,224h1v1h-1zM455,225h1v1h-1z" fill="#ff0000"/><rect x="453" y="225" width="1" height="1" fill="#fff"/>
<line x1="199.5" y1="229.0" x2="191.5" y2="288.8" stroke="#fff" stroke-width="1.2"/><polygon points="189.7,264.3 199.6,265.6 191.5,288.8" fill="#fff"/>
<line x1="238.2" y1="293.8" x2="234.5" y2="348.8" stroke="#fff" stroke-width="1.2"/><polygon points="231.2,327.5 240.7,328.1 234.5,348.8" fill="#fff"/>
<line x1="423.5" y1="200.5" x2="427.5" y2="230.5" stroke="#fff" stroke-width="1.2"/><polygon points="423.3,220.0 428.8,219.2 427.5,230.5" fill="#fff"/>
<line x1="461.5" y1="219.5" x2="418.0" y2="229.3" stroke="#fff" stroke-width="1.2"/><polygon points="434.8,222.2 436.3,228.5 418.0,229.3" fill="#fff"/>
<line x1="453.8" y1="225.0" x2="419.5" y2="274.5" stroke="#fff" stroke-width="1.2"/><polygon points="429.2,252.1 437.1,257.5 419.5,274.5" fill="#fff"/>
<line x1="580.5" y1="255.0" x2="580.5" y2="305.0" stroke="#fff" stroke-width="1.2"/><polygon points="576.8,287.0 584.2,287.0 580.5,305.0" fill="#fff"/>
<polygon points="460.0,398.0 467.5,397.0 470.0,400.0 469.5,406.2 463.8,407.5 466.2,403.8 461.2,400.0" fill="#14007d" stroke="#000" stroke-width="1"/>
<path d="M396,146h2v1h-2zM398,147h2v1h-2z" fill="#fff"/><path d="M204,226h1v4h-1zM203,228h3v1h-3z" fill="#ff0000"/>
<rect x="67" y="386" width="142" height="25" fill="#dcdcdc"/>
<rect x="64.5" y="383.5" width="141" height="24" fill="#fff" stroke="#000" stroke-width="1"/>
<line x1="73" y1="395.5" x2="128" y2="395.5" stroke="#000" stroke-width="1"/>
<polygon points="108.75,390.5 108.75,401 126,397 126,394.5" fill="#000"/>
<text x="122" y="400" font-size="11.5" textLength="12.5" lengthAdjust="spacingAndGlyphs">18</text>
<text x="141" y="400" font-size="11.5" textLength="34" lengthAdjust="spacingAndGlyphs">km/hr</text>
<rect x="103" y="435" width="449" height="19" fill="#dcdcdc"/>
<rect x="96.00" y="431" width="49.90" height="19.5" fill="#14007d"/>
<rect x="145.75" y="431" width="49.90" height="19.5" fill="#0014ff"/>
<rect x="195.50" y="431" width="49.90" height="19.5" fill="#006eff"/>
<rect x="245.25" y="431" width="49.90" height="19.5" fill="#00aa82"/>
<rect x="295.00" y="431" width="49.90" height="19.5" fill="#00dc00"/>
<rect x="344.75" y="431" width="49.90" height="19.5" fill="#82ff00"/>
<rect x="394.50" y="431" width="49.90" height="19.5" fill="#ffbe00"/>
<rect x="444.25" y="431" width="49.90" height="19.5" fill="#ff6400"/>
<rect x="494.00" y="431" width="49.90" height="19.5" fill="#ff0000"/>
<rect x="96.5" y="431.5" width="448" height="19" fill="none" stroke="#000" stroke-width="1"/>
<line x1="96.5" y1="431" x2="96.5" y2="455" stroke="#000" stroke-width="1"/>
<line x1="245.5" y1="431" x2="245.5" y2="455" stroke="#000" stroke-width="1"/>
<line x1="395.5" y1="431" x2="395.5" y2="455" stroke="#000" stroke-width="1"/>
<line x1="544.5" y1="431" x2="544.5" y2="455" stroke="#000" stroke-width="1"/>
<text x="96.0" y="464" font-size="11" text-anchor="middle">0</text>
<text x="245.5" y="464" font-size="11" text-anchor="middle">6</text>
<text x="395.5" y="464" font-size="11" text-anchor="middle">12</text>
<text x="545.0" y="464" font-size="11" text-anchor="middle">18</text>
<text x="242.5" y="475.5" font-size="11" textLength="29" lengthAdjust="spacing">km hr</text>
<text x="274.5" y="471" font-size="7.5">-1</text>
<text x="295" y="475.5" font-size="11" textLength="67" lengthAdjust="spacing">2026/04/19</text>
<text x="369" y="475.5" font-size="11" textLength="30" lengthAdjust="spacing">14:30</text>
<text x="176" class="t" y="74" font-size="15.8" textLength="149" lengthAdjust="spacing">VictoriaWeather.ca</text>
<text x="336" class="t" y="71.8" font-size="15.8" textLength="24" lengthAdjust="spacingAndGlyphs">--</text>
<text x="370" class="t" y="74" font-size="15.8" textLength="35" lengthAdjust="spacing">Wind</text>
<text x="416" class="t" y="74" font-size="15.8" textLength="48" lengthAdjust="spacing">Speed</text>
</svg>
</body></html>
